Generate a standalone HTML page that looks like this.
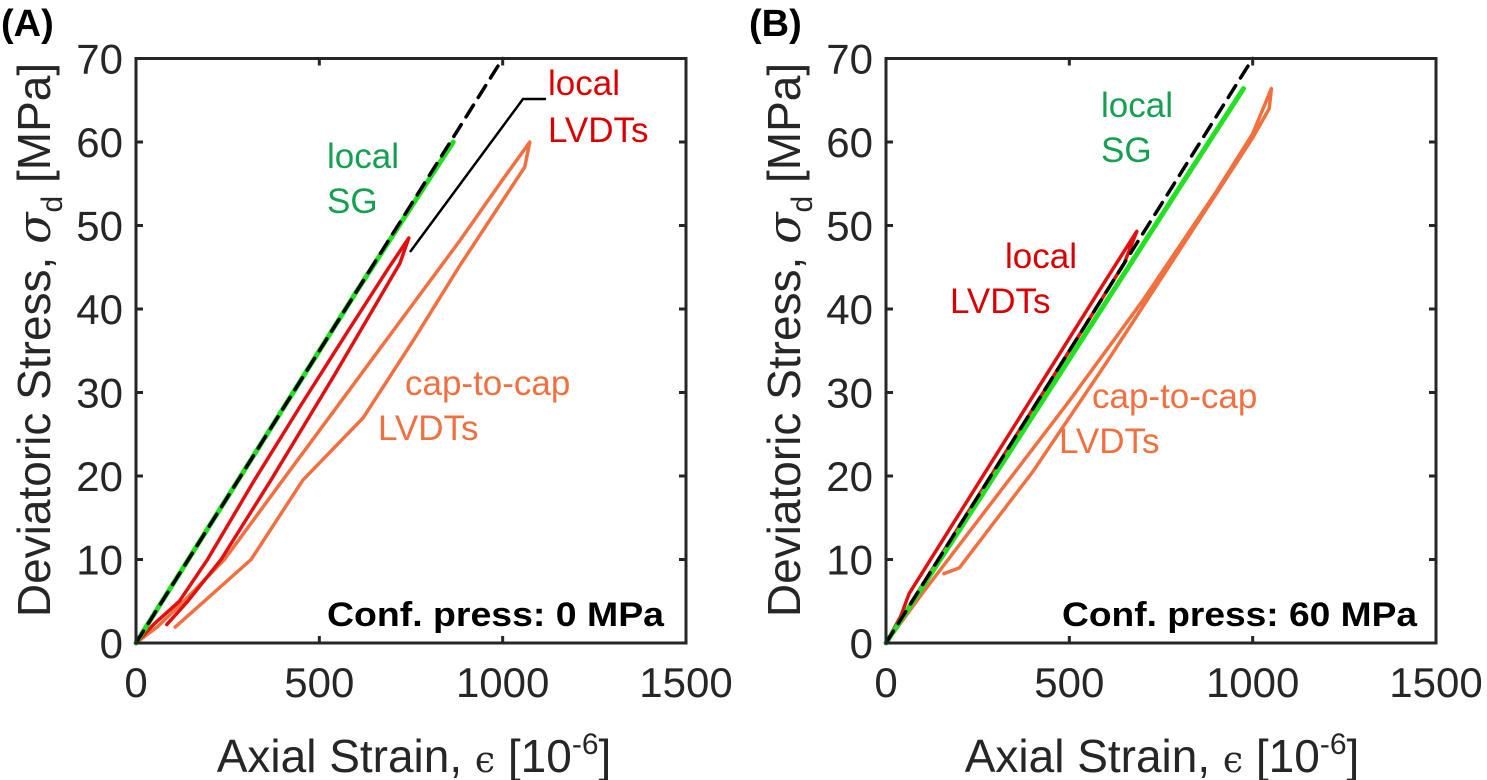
<!DOCTYPE html>
<html><head><meta charset="utf-8"><style>
html,body{margin:0;padding:0;background:#fff}
svg{display:block}
text{font-family:"Liberation Sans",Arial,sans-serif}
</style></head><body>
<svg id="fig" width="1487" height="780" viewBox="0 0 1487 780" xmlns="http://www.w3.org/2000/svg">
<g id="pA"></g>
<g id="pB"></g>
</svg>
<script>
const xTicks=[0,500,1000,1500];
const yTicks=[0,10,20,30,40,50,60,70];
const xTickLabels=["0","500","1000","1500"];
const yTickLabels=["0","10","20","30","40","50","60","70"];
// Panel A data [strain, stress]
const aDashX=[0,1000];
const aDashY=[0,70];
const aSGX=[0,200,400,600,865];
const aSGY=[0,14,28,42,60];
const aRedX=[0,50,118,195,323,450,580,690,744,720,660,540,368,232,141,84];
const aRedY=[0,2.3,5,10,19.5,28.5,37.5,45,48.5,45.5,41,32,19.5,10,5,2.2];
const aOrX=[0,60,130,241,400,560,720,880,1000,1074,1060,1000,880,760,620,455,314,186,107];
const aOrY=[0,2,5,10,19.5,29,38.5,48,55.5,60,57,53,45,36.5,27,19.5,10,5,1.9];
// Panel B data
const bDashX=[0,1000];
const bDashY=[0,70];
const bSGX=[0,200,500,800,975];
const bSGY=[0,13.5,34,54.5,66.4];
const bRedX=[0,40,63,150,300,450,600,684,650,600,400,200,50,0];
const bRedY=[0,3.2,5.9,12,22.5,33,43.5,49.3,45.5,42,28,14,3.5,0];
const bOrX=[0,100,300,500,700,900,1000,1051,1045,1000,800,600,400,200,158];
const bOrY=[0,6,17.5,29,41,54,61,66.4,64,60.5,47,33.5,20.5,9,8.3];

const NS="http://www.w3.org/2000/svg";
function mk(parent,tag,attrs){const e=document.createElementNS(NS,tag);for(const k in attrs)e.setAttribute(k,attrs[k]);parent.appendChild(e);return e;}

function panel(g,left,cfg){
  const top=58.5,bottom=643,right=left+550;
  const sx=v=>left+v*(550/1500);
  const sy=v=>bottom-v*((bottom-top)/70);
  function line(xs,ys,color,w,dash,name){
    let d="";for(let i=0;i<xs.length;i++)d+=(i?"L":"M")+sx(xs[i]).toFixed(1)+" "+sy(ys[i]).toFixed(1);
    const p=mk(g,"path",{d:d,fill:"none",stroke:color,"stroke-width":w,"stroke-linejoin":"round","stroke-linecap":"round"});
    if(dash)p.setAttribute("stroke-dasharray",dash);
    
    
  }
  line(cfg.orX,cfg.orY,"#f07040",3.5,null,"cap-to-cap-lvdt-curve");
  line(cfg.redX,cfg.redY,"#e01010",3.5,null,"local-lvdt-curve");
  line(cfg.sgX,cfg.sgY,"#22e022",5,null,"local-sg-curve");
  line(cfg.dashX,cfg.dashY,"#000",3.5,"14 9","linear-fit-dashed");
  const box=mk(g,"rect",{x:left,y:top,width:550,height:bottom-top,fill:"none",stroke:"#262626","stroke-width":3});
  
  
  xTicks.forEach((t,i)=>{
    const x=sx(t);
    const tk=mk(g,"path",{d:`M${x} ${bottom}v-7M${x} ${top}v7`,stroke:"#262626","stroke-width":3});
    
    
    const tx=mk(g,"text",{x:x,y:697,"font-size":42,"text-anchor":"middle",fill:"#262626"});
    tx.textContent=xTickLabels[i];
    
    
  });
  yTicks.forEach((t,i)=>{
    const y=sy(t);
    const tk=mk(g,"path",{d:`M${left} ${y}h7M${right} ${y}h-7`,stroke:"#262626","stroke-width":3});
    
    
    const tx=mk(g,"text",{x:left-13,y:y+15,"font-size":42,"text-anchor":"end",fill:"#262626"});
    tx.textContent=yTickLabels[i];
    
    
  });
}
function labels(g,items){
  items.forEach(it=>{
    const t=mk(g,"text",{x:it[0],y:it[1],"font-size":it[4]||35,fill:it[3]});
    if(it[5]){t.setAttribute("font-weight","bold");t.setAttribute("textLength",it[5]);t.setAttribute("lengthAdjust","spacingAndGlyphs");}
    t.textContent=it[2];
    
    
  });
}
const gA=document.getElementById("pA"),gB=document.getElementById("pB");
panel(gA,136,{dashX:aDashX,dashY:aDashY,sgX:aSGX,sgY:aSGY,redX:aRedX,redY:aRedY,orX:aOrX,orY:aOrY});
panel(gB,886,{dashX:bDashX,dashY:bDashY,sgX:bSGX,sgY:bSGY,redX:bRedX,redY:bRedY,orX:bOrX,orY:bOrY});
const leader=mk(gA,"path",{d:"M410 252L523 99H546",fill:"none",stroke:"#000","stroke-width":2.5});


const G="#14a050",R="#d80000",O="#f07040";
labels(gA,[[548,95,"local",R,35,0,"label-local-lvdts"],[548,142,"LVDTs",R,35,0,"label-local-lvdts"],
 [327,168,"local",G,35,0,"label-local-sg"],[327,213,"SG",G,35,0,"label-local-sg"],
 [405,395,"cap-to-cap",O,35,0,"label-cap-to-cap"],[378,440,"LVDTs",O,35,0,"label-cap-to-cap"],
 [327,626,"Conf. press: 0 MPa","#000",34,337,"confining-pressure-note"]]);
labels(gB,[[1101,117,"local",G,35,0,"label-local-sg"],[1101,162,"SG",G,35,0,"label-local-sg"],
 [1005,268,"local",R,35,0,"label-local-lvdts"],[950,313,"LVDTs",R,35,0,"label-local-lvdts"],
 [1092,408,"cap-to-cap",O,35,0,"label-cap-to-cap"],[1059,453,"LVDTs",O,35,0,"label-cap-to-cap"],
 [1062,626,"Conf. press: 60 MPa","#000",34,355,"confining-pressure-note"]]);
[[0,"(A)",gA],[748,"(B)",gB]].forEach(p=>{
  const t=mk(p[2],"text",{x:p[0]+1,y:36,"font-size":38,"font-weight":"bold",fill:"#000"});
  t.textContent=p[1];
  
  
});
[[414,gA,0],[1162,gB,750]].forEach(p=>{
  const t=mk(p[1],"text",{x:p[0],y:772,"font-size":46,"text-anchor":"middle",fill:"#262626"});
  t.innerHTML='Axial Strain, <tspan font-family="DejaVu Serif" font-size="36">ϵ</tspan> [10<tspan dy="-18" font-size="30">-6</tspan><tspan dy="18">]</tspan>';
  
  
  const y=mk(p[1],"text",{x:0,y:0,"font-size":46,"text-anchor":"middle",fill:"#262626",transform:`translate(${50+p[2]},340) rotate(-90)`});
  y.innerHTML='Deviatoric Stress, <tspan font-style="italic" font-family="DejaVu Serif">σ</tspan><tspan dy="12" font-size="30">d</tspan><tspan dy="-12"> [MPa]</tspan>';
  
  
});
</script>
</body></html>
